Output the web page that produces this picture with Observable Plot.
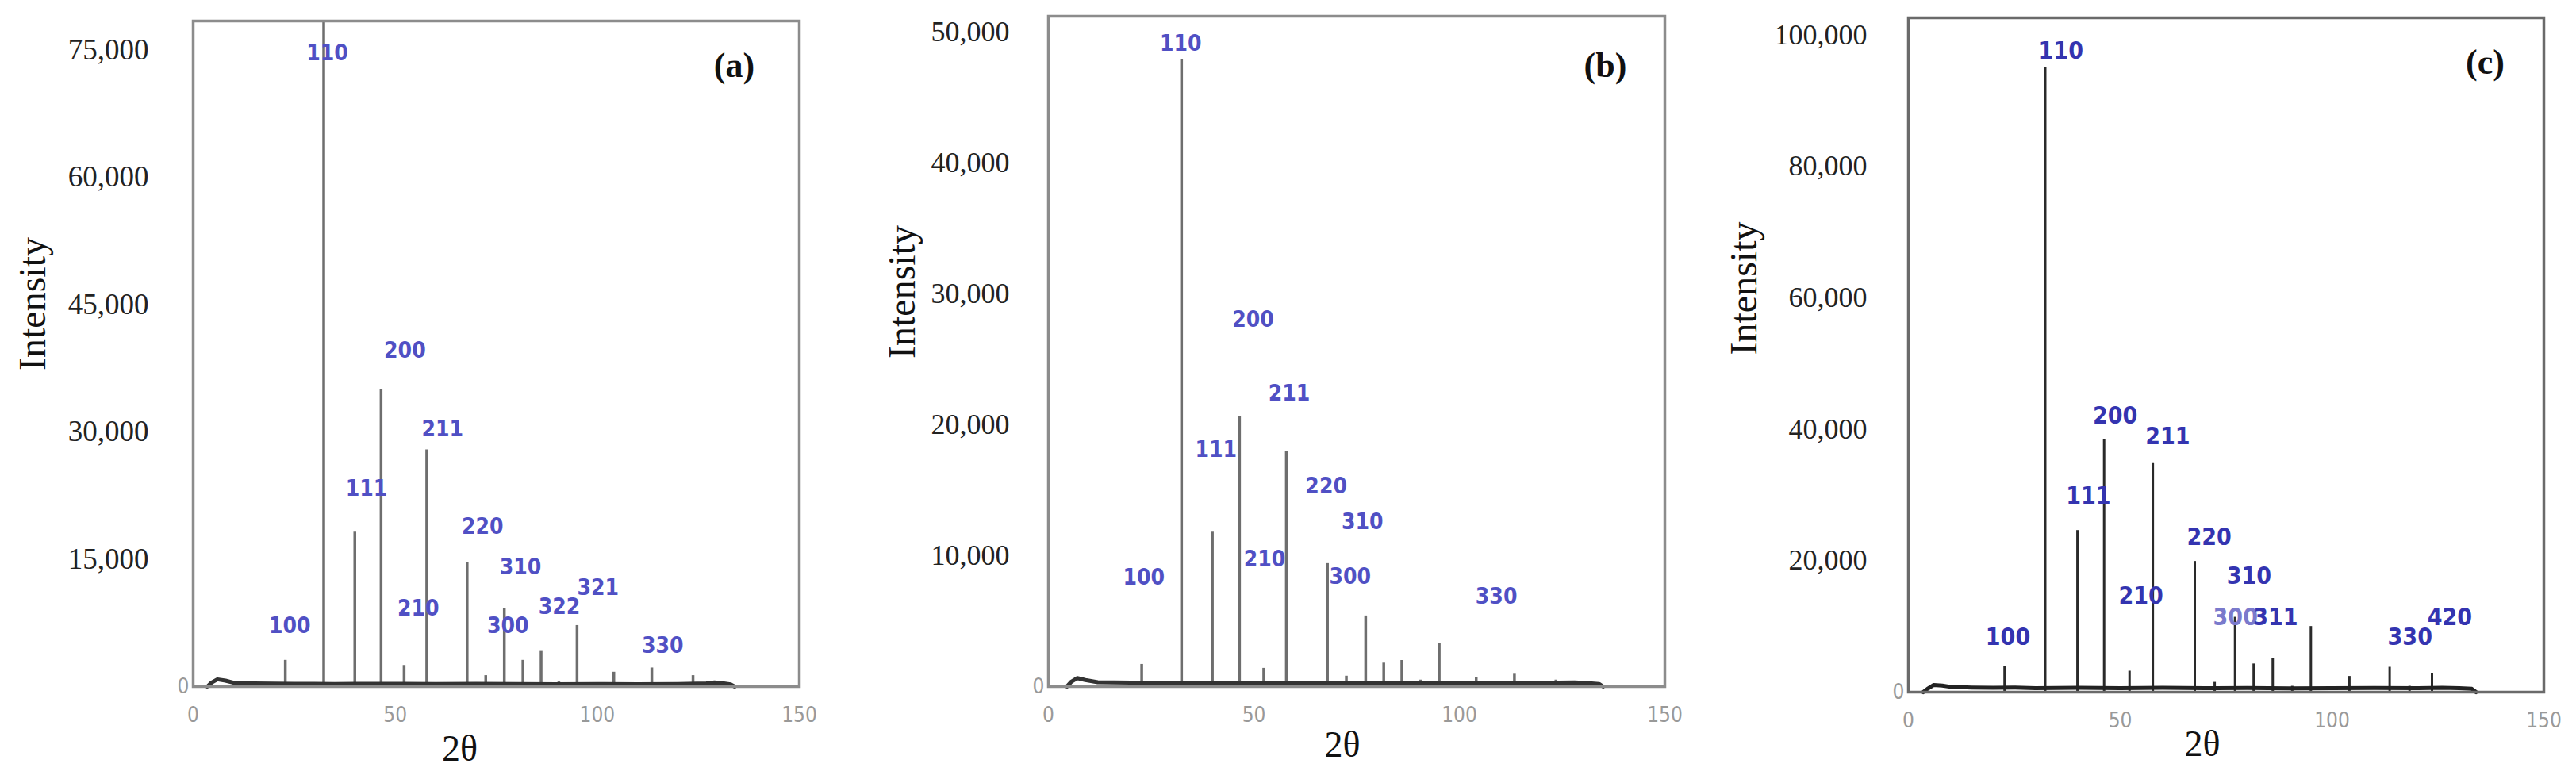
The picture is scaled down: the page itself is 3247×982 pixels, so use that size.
<!DOCTYPE html>
<html><head><meta charset="utf-8">
<script src="https://cdn.jsdelivr.net/npm/d3@7"></script>
<script src="https://cdn.jsdelivr.net/npm/@observablehq/plot@0.6"></script>
<style>
body{margin:0;background:#fff;}
#wrap{position:relative;width:3247px;height:982px;overflow:hidden;background:#fff;}
#wrap svg{position:absolute;top:0;overflow:visible;}
</style></head><body><div id="wrap"></div>
<script>
// ---------- data ----------
const xTicks = [0, 50, 100, 150];
const minorTicks = [10,20,30,40,50,60,70,80,90,100,110,120,130,140];

// Panel (a)
const peaksA_theta = [22.8, 32.3, 40.0, 46.5, 52.2, 57.8, 67.8, 72.4, 77.0, 81.6, 86.1, 90.5, 95.0, 104.1, 113.5, 123.7];
const peaksA_int   = [3100, 78400, 18200, 35000, 2500, 27900, 14600, 1300, 9200, 3100, 4150, 650, 7200, 1700, 2200, 1300];
const baseA_theta  = [3.5, 4.5, 6, 8, 10, 15, 20, 25, 30, 35, 40, 50, 60, 70, 80, 90, 100, 110, 120, 127, 129, 131, 133, 134];
const baseA_int    = [0, 450, 850, 700, 450, 380, 350, 320, 330, 300, 320, 330, 300, 320, 300, 280, 300, 280, 300, 380, 500, 400, 250, 0];
const labelsA_text  = ["110", "200", "111", "211", "220", "310", "210", "300", "322", "321", "330", "100"];
const labelsA_theta = [33.2, 52.4, 42.9, 61.7, 71.6, 81.0, 55.7, 77.9, 90.6, 100.2, 116.2, 23.9];
const labelsA_int   = [74600, 39600, 23300, 30300, 18800, 14100, 9200, 7100, 9400, 11600, 4850, 7100];
const yTicksA = [15000, 30000, 45000, 60000, 75000];

// Panel (b)
const peaksB_theta = [22.7, 32.4, 39.9, 46.5, 52.4, 57.9, 67.9, 72.5, 77.2, 81.6, 86.0, 90.6, 95.1, 104.1, 113.4, 123.5];
const peaksB_int   = [1700, 47900, 11800, 20600, 1400, 18000, 9400, 800, 5400, 1800, 2000, 500, 3300, 700, 950, 500];
const baseB_theta  = [4.5, 5.5, 7, 9, 12, 20, 30, 40, 50, 60, 70, 80, 90, 100, 110, 120, 128, 131, 134, 135];
const baseB_int    = [0, 350, 650, 500, 330, 300, 280, 300, 310, 280, 300, 290, 300, 280, 300, 290, 320, 280, 200, 0];
const labelsB_text  = ["110", "200", "211", "111", "220", "310", "210", "300", "100", "330"];
const labelsB_theta = [32.2, 49.8, 58.6, 40.8, 67.6, 76.4, 52.6, 73.4, 23.2, 109.0];
const labelsB_int   = [49100, 28000, 22400, 18100, 15300, 12600, 9700, 8400, 8300, 6900];
const yTicksB = [10000, 20000, 30000, 40000, 50000];

// Panel (c)
const peaksC_theta = [22.7, 32.3, 39.9, 46.2, 52.2, 57.7, 67.6, 72.3, 77.1, 81.5, 86.0, 90.6, 95.0, 104.1, 113.6, 118.3, 123.6];
const peaksC_int   = [3950, 95000, 24600, 38500, 3200, 34800, 19900, 1500, 11400, 4300, 5100, 900, 10000, 2400, 3800, 900, 2800];
const baseC_theta  = [3.5, 4.5, 6, 8, 10, 15, 20, 25, 30, 40, 50, 60, 70, 80, 90, 100, 110, 120, 126, 130, 133, 134];
const baseC_int    = [0, 500, 1100, 1000, 800, 700, 650, 700, 600, 650, 600, 650, 600, 620, 580, 600, 620, 600, 650, 600, 500, 0];
const labelsC_text  = ["110", "200", "211", "111", "220", "310", "210", "300", "311", "100", "330", "420"];
const labelsC_theta = [36.0, 48.8, 61.2, 42.5, 71.0, 80.4, 54.9, 77.2, 86.7, 23.5, 118.4, 127.8];
const labelsC_int   = [97500, 42000, 38900, 29800, 23500, 17600, 14600, 11400, 11400, 8350, 8350, 11400];
const yTicksC = [20000, 40000, 60000, 80000, 100000];

// ---------- drawing ----------
const SERIF = "'Liberation Serif', 'Times New Roman', serif";
const NARROW = "'Liberation Sans Narrow', 'Arial Narrow', 'DejaVu Sans Condensed', sans-serif";

function panel(o) {
  const pk = o.peaksX.map((_, i) => i);
  const bs = o.baseX.map((_, i) => i);
  const lb = o.labT.map((_, i) => i);
  const chart = Plot.plot({
    width: o.width, height: 982,
    marginTop: o.mTop, marginBottom: o.mBottom, marginLeft: o.mLeft, marginRight: o.mRight,
    x: {domain: [0, 150]},
    y: {domain: [0, o.yMax]},
    style: {background: "transparent", overflow: "visible"},
    marks: [
      Plot.axisX({ticks: xTicks, tickSize: 0, tickPadding: o.xPad, fontSize: 26, fontFamily: NARROW, color: "#999", label: null}),
      Plot.axisY({ticks: o.yTicks, tickSize: 0, tickPadding: o.yPad, tickFormat: d3.format(","), fontSize: o.ySize, fontFamily: SERIF, color: "#222", label: null}),
      Plot.axisY({ticks: [0], tickSize: 0, tickPadding: 5, fontSize: 26, fontFamily: NARROW, color: "#999", label: null}),
      Plot.ruleX(pk, {x: i => o.peaksX[i], y1: 0, y2: i => o.peaksY[i], stroke: o.peakColor, strokeWidth: o.peakWidth}),
      Plot.line(bs, {x: i => o.baseX[i], y: i => o.baseY[i], stroke: o.traceColor, strokeWidth: o.traceWidth}),
      Plot.frame({stroke: o.frameColor, strokeWidth: 3.5}),
      Plot.text(lb, {x: i => o.labX[i], y: i => o.labY[i], text: i => o.labT[i],
        fill: i => (o.labAlt && o.labT[i] === "300") ? o.labAlt : o.labColor,
        fontSize: o.labSize, fontFamily: NARROW, fontWeight: "bold"}),
      Plot.text([o.tag], {frameAnchor: "top-right", dx: o.tagDx, dy: o.tagDy, textAnchor: "middle", lineAnchor: "middle",
        fontSize: 44, fontWeight: "bold", fontFamily: SERIF, fill: "#111"}),
      Plot.text(["Intensity"], {frameAnchor: "left", dx: o.intDx, dy: o.intDy, rotate: -90, textAnchor: "middle", lineAnchor: "middle",
        fontSize: 48, fontFamily: SERIF, fill: "#111"}),
      Plot.text(["2θ"], {frameAnchor: "bottom", dx: o.thDx, dy: o.thDy, textAnchor: "middle", lineAnchor: "middle",
        fontSize: 46, fontFamily: SERIF, fill: "#111"})
    ]
  });
  chart.style.left = o.left + "px";
  document.getElementById("wrap").appendChild(chart);
}

panel({left: 0, width: 1040, mTop: 26, mBottom: 117, mLeft: 243, mRight: 33, yMax: 78400, yTicks: yTicksA, yPad: 56, ySize: 37, xPad: 26,
  peaksX: peaksA_theta, peaksY: peaksA_int, baseX: baseA_theta, baseY: baseA_int,
  labX: labelsA_theta, labY: labelsA_int, labT: labelsA_text, labColor: "#5050c4", labSize: 28,
  frameColor: "#8c8c8c", peakColor: "#6e6e6e", peakWidth: 3.5, traceColor: "#333", traceWidth: 5,
  tag: "(a)", tagDx: -82, tagDy: 56, intDx: -202, intDy: -63, thDx: -46, thDy: 79});

panel({left: 1060, width: 1060, mTop: 20, mBottom: 117, mLeft: 261, mRight: 22, yMax: 51200, yTicks: yTicksB, yPad: 49, ySize: 36, xPad: 26,
  peaksX: peaksB_theta, peaksY: peaksB_int, baseX: baseB_theta, baseY: baseB_int,
  labX: labelsB_theta, labY: labelsB_int, labT: labelsB_text, labColor: "#5050c4", labSize: 28,
  frameColor: "#8c8c8c", peakColor: "#6e6e6e", peakWidth: 3.5, traceColor: "#333", traceWidth: 5,
  tag: "(b)", tagDx: -75, tagDy: 62, intDx: -184, intDy: -75, thDx: -18, thDy: 74});

panel({left: 2130, width: 1117, mTop: 22, mBottom: 110, mLeft: 275, mRight: 41, yMax: 102600, yTicks: yTicksC, yPad: 52, ySize: 36, xPad: 26,
  peaksX: peaksC_theta, peaksY: peaksC_int, baseX: baseC_theta, baseY: baseC_int,
  labX: labelsC_theta, labY: labelsC_int, labT: labelsC_text, labColor: "#3434b0", labAlt: "#7a7acc", labSize: 30,
  frameColor: "#6a6a6a", peakColor: "#2a2a2a", peakWidth: 3, traceColor: "#222", traceWidth: 5,
  tag: "(c)", tagDx: -74, tagDy: 56, intDx: -207, intDy: -84, thDx: -30, thDy: 66});
</script></body></html>
